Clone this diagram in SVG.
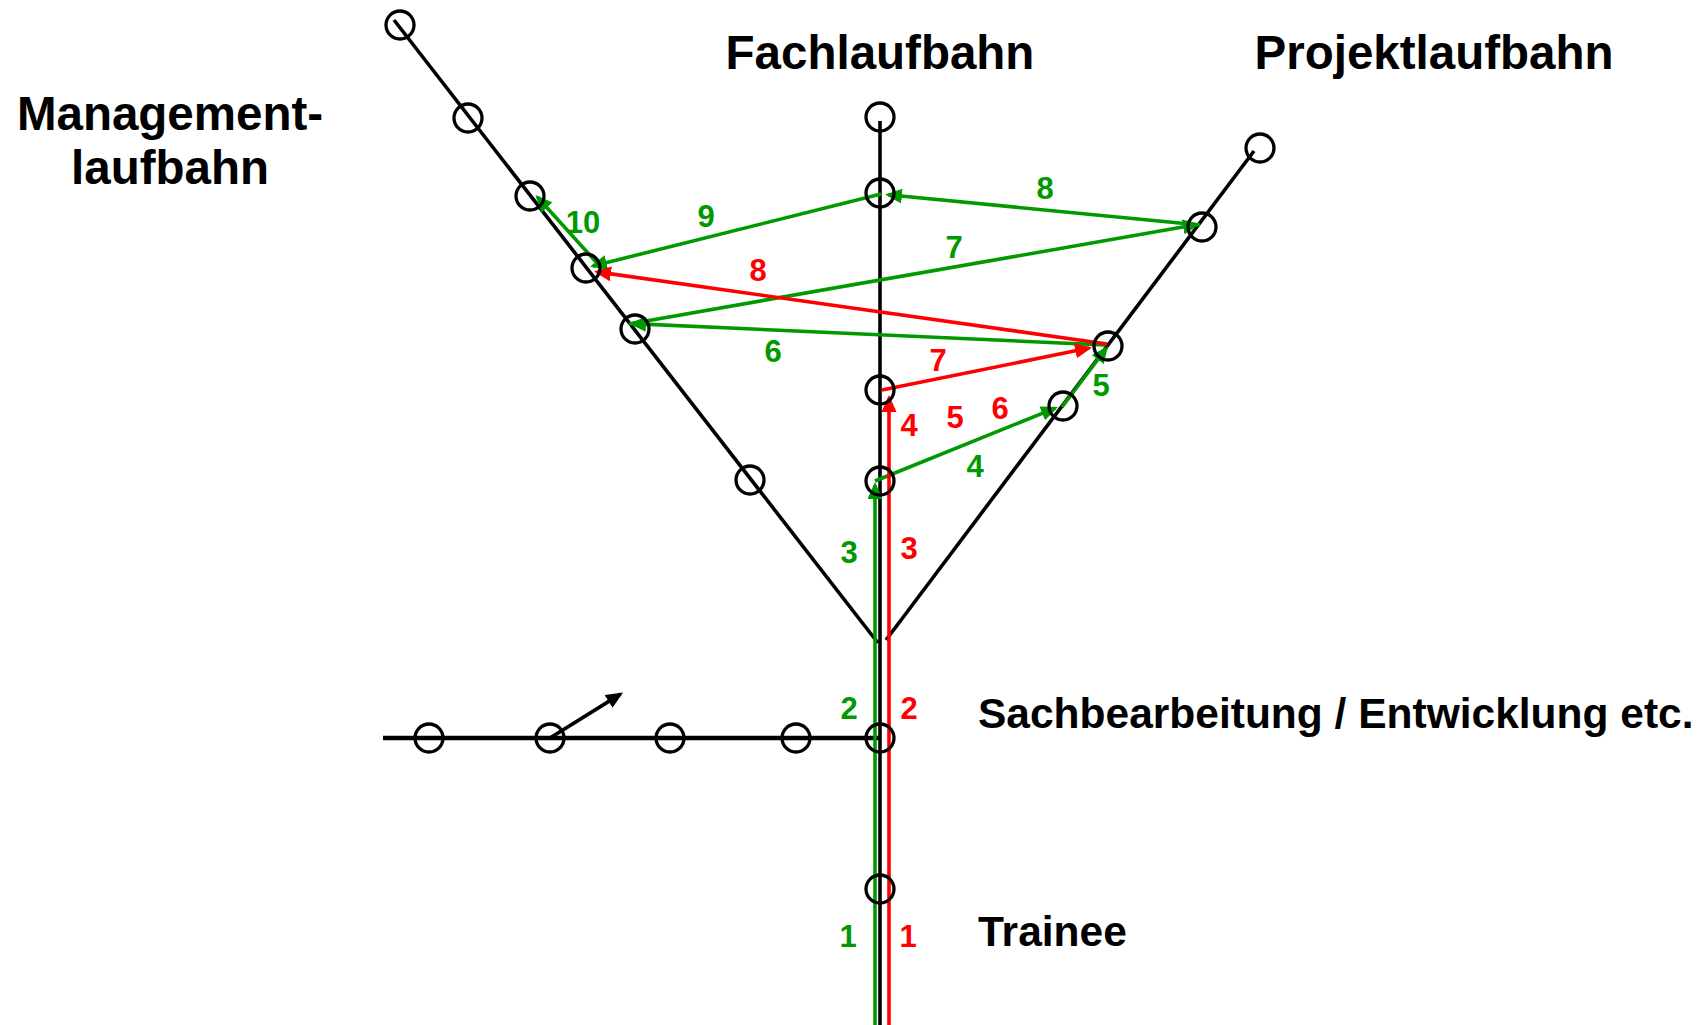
<svg xmlns="http://www.w3.org/2000/svg" width="1707" height="1025" viewBox="0 0 1707 1025">
  <style>
    .track { stroke: #000; stroke-width: 3.6; fill: none; }
    .base { stroke: #000; stroke-width: 4.4; fill: none; }
    .stop { stroke: #000; stroke-width: 3.3; fill: none; }
    .g { stroke: #009900; stroke-width: 3.6; fill: none; }
    .r { stroke: #ff0000; stroke-width: 3.6; fill: none; }
    .ga { marker-end: url(#ah-g); }
    .ra { marker-end: url(#ah-r); }
    .title { font-family: "Liberation Sans", Arial, sans-serif; font-weight: bold; font-size: 47.5px; fill: #000; }
    .sub { font-family: "Liberation Sans", Arial, sans-serif; font-weight: bold; font-size: 42.5px; fill: #000; }
    .num { font-family: "Liberation Sans", Arial, sans-serif; font-weight: bold; font-size: 31px; text-anchor: middle; }
    .ng { fill: #009900; }
    .nr { fill: #ff0000; }
  </style>
  <defs>
    <marker id="ah-g" viewBox="0 0 17 15" refX="14" refY="7.5" markerWidth="17" markerHeight="15" markerUnits="userSpaceOnUse" orient="auto">
      <path d="M0,0 L17,7.5 L0,15 z" fill="#009900"/>
    </marker>
    <marker id="ah-r" viewBox="0 0 17 15" refX="14" refY="7.5" markerWidth="17" markerHeight="15" markerUnits="userSpaceOnUse" orient="auto">
      <path d="M0,0 L17,7.5 L0,15 z" fill="#ff0000"/>
    </marker>
    <marker id="ah-k" viewBox="0 0 17 15" refX="14" refY="7.5" markerWidth="17" markerHeight="15" markerUnits="userSpaceOnUse" orient="auto">
      <path d="M0,0 L17,7.5 L0,15 z" fill="#000"/>
    </marker>
  </defs>

  <rect width="1707" height="1025" fill="#fff"/>

  <!-- career tracks and moves -->
  <g id="connectors">
    <!-- black tracks -->
    <line class="track" x1="394" y1="20" x2="878" y2="643"/>
    <line class="track" x1="880" y1="121" x2="880" y2="1025"/>
    <line class="track" x1="886" y1="640" x2="1254" y2="151"/>
    <line class="base" x1="383" y1="738" x2="880" y2="738"/>
    <line stroke="#000" stroke-width="3.6" x1="550" y1="738" x2="620.5" y2="694.1" marker-end="url(#ah-k)"/>

    <!-- green path -->
    <line class="g ga" x1="875" y1="1025" x2="875" y2="485"/>
    <line class="g ga" x1="875" y1="481" x2="1055.2" y2="408.1"/>
    <line class="g ga" x1="1062" y1="407" x2="1106.2" y2="348.4"/>
    <line class="g ga" x1="1105" y1="345" x2="632" y2="323.6"/>
    <line class="g ga" x1="629" y1="324" x2="1197" y2="224.5"/>
    <line class="g ga" x1="1200" y1="225" x2="888" y2="194.8"/>
    <line class="g ga" x1="881" y1="194" x2="592.9" y2="266"/>
    <line class="g ga" x1="597" y1="263" x2="537.5" y2="197.2"/>

    <!-- red path -->
    <line class="r ra" x1="889" y1="1025" x2="889" y2="398"/>
    <line class="r ra" x1="882" y1="390" x2="1089.1" y2="348.1"/>
    <line class="r ra" x1="1107" y1="344" x2="597" y2="271.9"/>
  </g>

  <!-- positions on the tracks -->
  <g id="m1"><circle class="stop" cx="400" cy="25" r="14"/></g>
  <g id="m2"><circle class="stop" cx="468" cy="118" r="14"/></g>
  <g id="m3"><circle class="stop" cx="530" cy="196" r="14"/></g>
  <g id="m4"><circle class="stop" cx="586" cy="268" r="14"/></g>
  <g id="m5"><circle class="stop" cx="635" cy="329" r="14"/></g>
  <g id="m6"><circle class="stop" cx="750" cy="480" r="14"/></g>

  <g id="f1"><circle class="stop" cx="880" cy="117" r="14"/></g>
  <g id="f2"><circle class="stop" cx="880" cy="193" r="14"/></g>
  <g id="f3"><circle class="stop" cx="880" cy="390" r="14"/></g>
  <g id="f4"><circle class="stop" cx="880" cy="481" r="14"/></g>
  <g id="s0"><circle class="stop" cx="880" cy="738" r="14"/></g>
  <g id="t0"><circle class="stop" cx="880" cy="889" r="14"/></g>

  <g id="p1"><circle class="stop" cx="1260" cy="148" r="14"/></g>
  <g id="p2"><circle class="stop" cx="1202" cy="227" r="14"/></g>
  <g id="p3"><circle class="stop" cx="1108" cy="346" r="14"/></g>
  <g id="p4"><circle class="stop" cx="1063" cy="406" r="14"/></g>

  <g id="s1"><circle class="stop" cx="429" cy="738" r="14"/></g>
  <g id="s2"><circle class="stop" cx="550" cy="738" r="14"/></g>
  <g id="s3"><circle class="stop" cx="670" cy="738" r="14"/></g>
  <g id="s4"><circle class="stop" cx="796" cy="738" r="14"/></g>

  <!-- track names -->
  <g id="label-management">
    <text class="title" x="170" y="130" text-anchor="middle">Management-</text>
    <text class="title" x="170" y="184" text-anchor="middle">laufbahn</text>
  </g>
  <g id="label-fach"><text class="title" x="880" y="69" text-anchor="middle">Fachlaufbahn</text></g>
  <g id="label-projekt"><text class="title" x="1434" y="69" text-anchor="middle">Projektlaufbahn</text></g>
  <g id="label-sach"><text class="sub" x="978" y="728">Sachbearbeitung / Entwicklung etc.</text></g>
  <g id="label-trainee"><text class="sub" x="978" y="946">Trainee</text></g>

  <!-- step numbers -->
  <g id="steps-green" class="num ng">
    <text x="848" y="947">1</text>
    <text x="849" y="719">2</text>
    <text x="849" y="563">3</text>
    <text x="975" y="477">4</text>
    <text x="1101" y="396">5</text>
    <text x="773" y="362">6</text>
    <text x="954" y="258">7</text>
    <text x="1045" y="199">8</text>
    <text x="706" y="227">9</text>
    <text x="583" y="233">10</text>
  </g>
  <g id="steps-red" class="num nr">
    <text x="908" y="947">1</text>
    <text x="909" y="719">2</text>
    <text x="909" y="559">3</text>
    <text x="909" y="436">4</text>
    <text x="955" y="428">5</text>
    <text x="1000" y="419">6</text>
    <text x="938" y="371">7</text>
    <text x="758" y="281">8</text>
  </g>
</svg>
